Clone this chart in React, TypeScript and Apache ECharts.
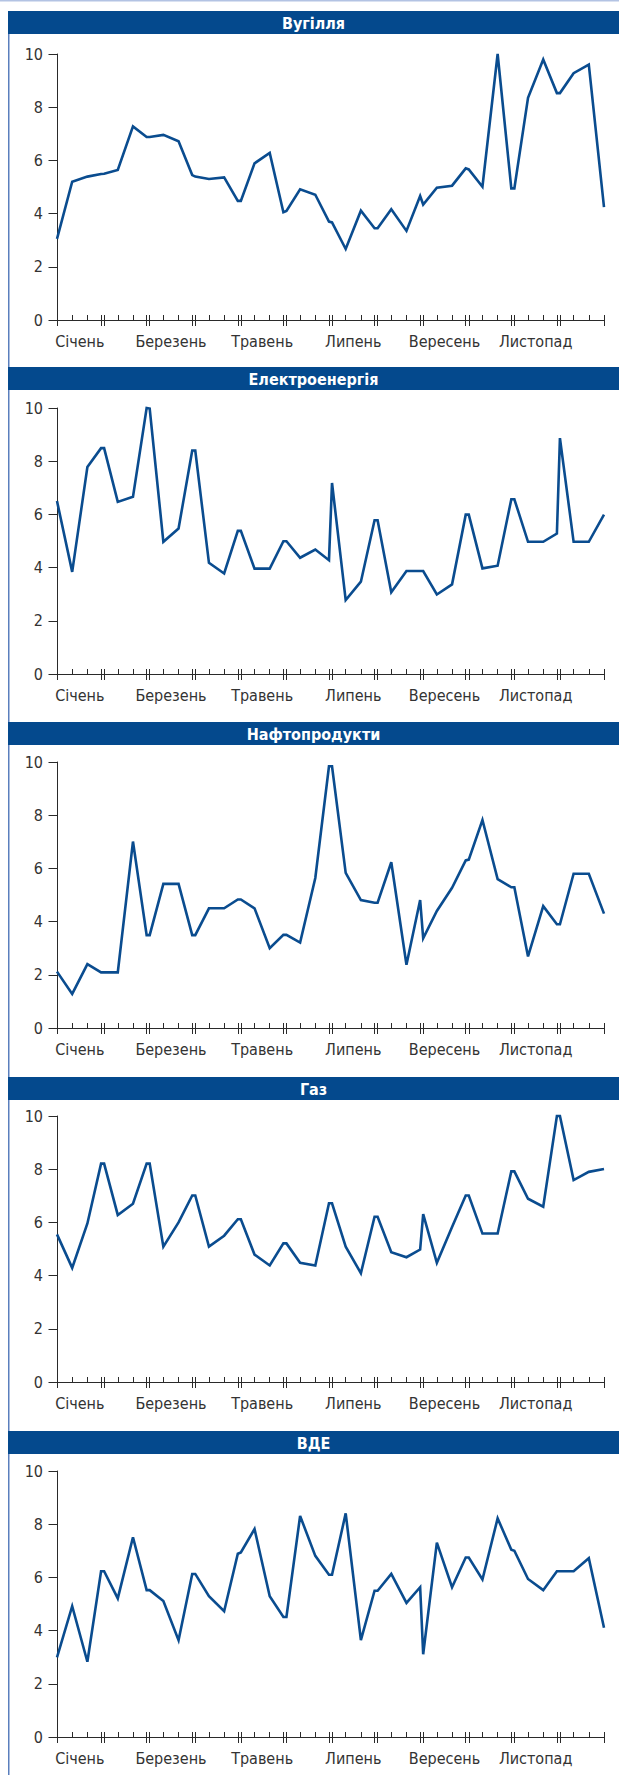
import React, { useEffect, useRef } from "react";
import * as echarts from "echarts";

// ---- DATA ----
// Each month has 4 points: month start, 1st decade mark, 2nd decade mark, month end.
const PANEL_TITLES = ["Вугілля", "Електроенергія", "Нафтопродукти", "Газ", "ВДЕ"];
const MONTH_LABELS = ["Січень", "Березень", "Травень", "Липень", "Вересень", "Листопад"];

const coal = [
  3.05, 5.2, 5.39, 5.49,
  5.5, 5.64, 7.28, 6.88,
  6.88, 6.96, 6.72, 5.45,
  5.39, 5.3, 5.36, 4.48,
  4.48, 5.89, 6.28, 4.05,
  4.1, 4.91, 4.71, 3.7,
  3.67, 2.67, 4.11, 3.45,
  3.45, 4.16, 3.35, 4.66,
  4.34, 4.97, 5.05, 5.7,
  5.66, 5.01, 10.0, 4.95,
  4.95, 8.35, 9.79, 8.53,
  8.53, 9.28, 9.6, 4.24,
];
const electricity = [
  6.5, 3.84, 7.78, 8.49,
  8.49, 6.47, 6.66, 10.0,
  9.98, 4.97, 5.47, 8.4,
  8.4, 4.18, 3.78, 5.38,
  5.38, 3.96, 3.96, 4.99,
  4.99, 4.37, 4.68, 4.28,
  7.18, 2.78, 3.47, 5.78,
  5.78, 3.07, 3.87, 3.87,
  3.87, 2.99, 3.37, 5.99,
  5.99, 3.97, 4.07, 6.57,
  6.57, 4.97, 4.97, 5.28,
  8.87, 4.97, 4.97, 5.99,
];
const oilProducts = [
  2.12, 1.28, 2.4, 2.09,
  2.09, 2.09, 7.01, 3.49,
  3.49, 5.42, 5.42, 3.49,
  3.49, 4.5, 4.5, 4.83,
  4.83, 4.5, 3.0, 3.5,
  3.5, 3.21, 5.64, 9.84,
  9.84, 5.83, 4.81, 4.71,
  4.71, 6.23, 2.38, 4.81,
  3.37, 4.4, 5.27, 6.3,
  6.33, 7.82, 5.6, 5.29,
  5.29, 2.69, 4.58, 3.9,
  3.9, 5.8, 5.8, 4.3,
];
const gas = [
  5.55, 4.29, 5.96, 8.21,
  8.21, 6.28, 6.7, 8.21,
  8.21, 5.09, 6.0, 7.01,
  7.01, 5.09, 5.5, 6.12,
  6.12, 4.79, 4.38, 5.21,
  5.21, 4.48, 4.38, 6.72,
  6.72, 5.09, 4.09, 6.21,
  6.21, 4.88, 4.69, 4.98,
  6.31, 4.48, 5.83, 7.01,
  7.01, 5.58, 5.58, 7.92,
  7.92, 6.89, 6.59, 10.0,
  10.0, 7.59, 7.9, 8.01,
];
const renewables = [
  2.99, 4.92, 2.83, 6.23,
  6.23, 5.21, 7.51, 5.52,
  5.52, 5.11, 3.64, 6.13,
  6.13, 5.29, 4.73, 6.89,
  6.94, 7.82, 5.29, 4.51,
  4.51, 8.31, 6.81, 6.1,
  6.1, 8.41, 3.64, 5.5,
  5.5, 6.13, 5.04, 5.63,
  3.11, 7.31, 5.63, 6.75,
  6.75, 5.92, 8.22, 7.04,
  7.0, 5.94, 5.52, 6.23,
  6.23, 6.23, 6.72, 4.11,
];
const SERIES = [coal, electricity, oilProducts, gas, renewables];
const Y_TICKS = [0, 2, 4, 6, 8, 10];

// ---- STRUCTURE / LAYOUT ----
const DELTA = 0.1; // gap around month boundaries (in decades)
const DECADES = 36;
const X_POS: number[] = [];
for (let m = 0; m < 12; m++) {
  X_POS.push(m === 0 ? 0 : 3 * m + DELTA, 3 * m + 1, 3 * m + 2, m === 11 ? DECADES : 3 * m + 3 - DELTA);
}
const decadeTicks: number[] = [];
const boundaryTicks: number[] = [];
for (let k = 1; k <= DECADES; k++) {
  if (k % 3 === 0 && k < DECADES) boundaryTicks.push(k - DELTA, k + DELTA);
  else decadeTicks.push(k);
}
const labelPositions = MONTH_LABELS.map((_, i) => 6 * i + 1.5);

const W = 619;
const H = 1775;
const HEADER_TOPS = [11, 367, 722, 1077, 1431];
const HEADER_H = 23;
const GRID_TOPS = [54, 408, 762, 1116, 1471];
const GRID_H = 266;
const GRID_LEFT = 57;
const GRID_RIGHT = 15;
const BLUE = "#04498d";
const LINE_BLUE = "#0a4c8f";
const AXIS = "#2a2a2a";
const FONT = "'Liberation Sans Narrow', 'DejaVu Sans Condensed', 'Arial Narrow', sans-serif";

export default function App() {
  const ref = useRef<HTMLDivElement>(null);
  useEffect(() => {
    if (!ref.current) return;
    const chart = echarts.init(ref.current, undefined, { renderer: "svg" });

    const grids: any[] = [];
    const xAxes: any[] = [];
    const yAxes: any[] = [];
    const series: any[] = [];
    const graphics: any[] = [
      { type: "rect", shape: { x: 0, y: 0, width: W, height: 1.5 }, style: { fill: "#b3c3e3" }, silent: true },
      { type: "rect", shape: { x: 8, y: HEADER_TOPS[0], width: 1.5, height: H - HEADER_TOPS[0] }, style: { fill: "#5a7fbd" }, silent: true },
    ];

    SERIES.forEach((vals, i) => {
      grids.push({ left: GRID_LEFT, right: GRID_RIGHT, top: GRID_TOPS[i], height: GRID_H, containLabel: false });
      xAxes.push({
        type: "value",
        gridIndex: i,
        min: 0,
        max: DECADES,
        position: "bottom",
        splitLine: { show: false },
        axisLine: { show: true, onZero: false, lineStyle: { color: AXIS, width: 1 } },
        axisTick: { show: true, inside: true, length: 5, customValues: [...decadeTicks, ...boundaryTicks], lineStyle: { color: AXIS, width: 1 } },
        axisLabel: {
          show: true,
          customValues: labelPositions,
          formatter: (v: number) => MONTH_LABELS[Math.round((v - 1.5) / 6)] ?? "",
          margin: 13,
          color: "#333",
          fontSize: 16,
          fontFamily: FONT,
        },
      });
      xAxes.push({
        type: "value",
        gridIndex: i,
        min: 0,
        max: DECADES,
        position: "bottom",
        offset: 0,
        splitLine: { show: false },
        axisLine: { show: false, onZero: false },
        axisTick: { show: true, inside: false, length: 6, customValues: [0, ...boundaryTicks, DECADES], lineStyle: { color: AXIS, width: 1 } },
        axisLabel: { show: false },
      });
      yAxes.push({
        type: "value",
        gridIndex: i,
        min: 0,
        max: 10,
        interval: 2,
        splitLine: { show: false },
        axisLine: { show: true, onZero: false, lineStyle: { color: AXIS, width: 1 } },
        axisTick: { show: true, inside: false, length: 8.5, lineStyle: { color: AXIS, width: 1 } },
        axisLabel: {
          margin: 14,
          color: "#333",
          fontSize: 16,
          fontFamily: FONT,
          formatter: (v: number) => (Y_TICKS.includes(v) ? String(v) : ""),
        },
      });
      series.push({
        type: "line",
        name: PANEL_TITLES[i],
        xAxisIndex: 2 * i,
        yAxisIndex: i,
        data: vals.map((v, j) => [X_POS[j], v]),
        showSymbol: false,
        symbol: "none",
        clip: false,
        lineStyle: { color: LINE_BLUE, width: 2.6, join: "miter" },
      });
      graphics.push({
        type: "rect",
        shape: { x: 8, y: HEADER_TOPS[i], width: W - 8, height: HEADER_H },
        style: { fill: BLUE },
        silent: true,
      });
      graphics.push({
        type: "text",
        x: (8 + W) / 2,
        y: HEADER_TOPS[i] + HEADER_H / 2 + 0.5,
        style: {
          text: PANEL_TITLES[i],
          fill: "#ffffff",
          font: `bold 16px ${FONT}`,
          textAlign: "center",
          textVerticalAlign: "middle",
        },
        silent: true,
      });
    });

    chart.setOption({
      animation: false,
      backgroundColor: "#ffffff",
      grid: grids,
      xAxis: xAxes,
      yAxis: yAxes,
      series,
      graphic: graphics,
    });
    return () => chart.dispose();
  }, []);

  return <div ref={ref} style={{ position: "absolute", left: 0, top: 0, width: W, height: H }} />;
}
